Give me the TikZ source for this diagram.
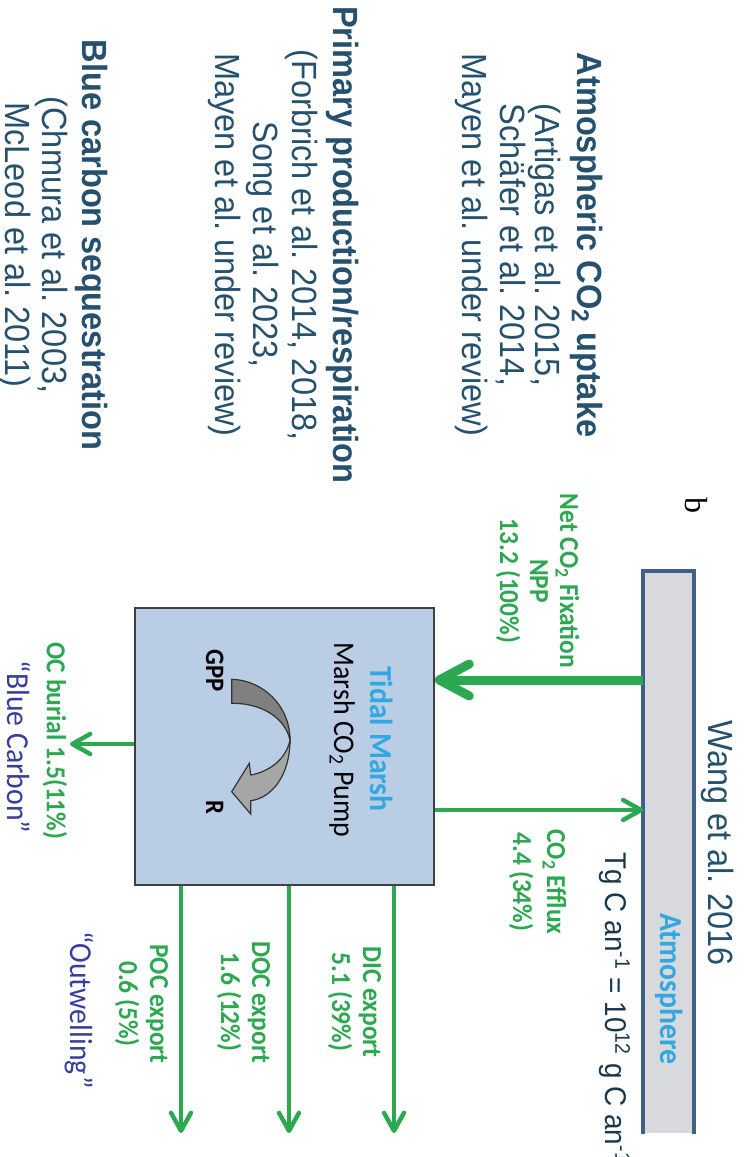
\documentclass[tikz,border=0pt]{standalone}
\usepackage{fontspec}
\setmainfont{Liberation Sans}
\newfontfamily\arialfont[FakeStretch=0.93]{Liberation Sans}
\newfontfamily\califont[FakeStretch=0.93]{Carlito}
\newfontfamily\seriffont{Liberation Serif}
\usetikzlibrary{arrows.meta}
\frenchspacing
\definecolor{refblue}{RGB}{37,80,110}
\definecolor{fluxgreen}{RGB}{44,168,80}
\definecolor{skyblue}{RGB}{50,168,226}
\definecolor{quoteblue}{RGB}{55,60,160}
\definecolor{marshfill}{RGB}{185,205,228}
\definecolor{atmfill}{RGB}{216,217,220}
\definecolor{atmline}{RGB}{65,95,138}

\begin{document}
\begin{tikzpicture}
  [x=0.5pt,y=-0.5pt,
   every node/.style={inner sep=0pt},
   vtext/.style={rotate=-90,anchor=base},
   reftext/.style={vtext,text=refblue,font=\arialfont\fontsize{17.5}{19}\selectfont},
   reftitle/.style={reftext,font=\arialfont\bfseries\fontsize{17.5}{19}\selectfont},
   fluxtext/.style={vtext,text=fluxgreen,font=\califont\bfseries\fontsize{13.7}{16}\selectfont},
   quotetext/.style={vtext,text=quoteblue,font=\califont\fontsize{16}{19}\selectfont},
   boxtext/.style={vtext,font=\califont\bfseries\fontsize{13.3}{16}\selectfont},
   flux/.style={draw=fluxgreen,line width=2.2pt,-{Straight Barb[length=9pt,width=10pt,round]}},
   bigflux/.style={flux,line width=4.5pt,-{Straight Barb[length=15pt,width=16pt,round]}}]
  \useasboundingbox (0,0) rectangle (747,1157);
  \clip (0,0) rectangle (747,1157);

  % references
  \node[reftitle] (atmtitle) at (577,245) {Atmospheric CO\textsubscript{2} uptake};
  \foreach \txt/\xx [count=\i] in {{(Artigas et al. 2015,}/535,{Schäfer et al. 2014,}/500,{Mayen et al. under review)}/462}
    \node[reftext] (atmref\i) at (\xx,245) {\txt};
  \node[reftitle] (pptitle) at (333,245) {Primary production/respiration};
  \foreach \txt/\xx [count=\i] in {{(Forbrich et al. 2014, 2018,}/292,{Song et al. 2023,}/253,{Mayen et al. under review)}/215}
    \node[reftext] (ppref\i) at (\xx,245) {\txt};
  \node[reftitle] (bctitle) at (82,245) {Blue carbon sequestration};
  \foreach \txt/\xx [count=\i] in {{(Chmura et al. 2003,}/42,{McLeod et al. 2011)}/5}
    \node[reftext] (bcref\i) at (\xx,245) {\txt};

  % atmosphere bar, open at the bottom
  \node[vtext,font=\seriffont\fontsize{16}{18}\selectfont] (panel) at (685,505) {b};
  \node[fill=atmfill,minimum width=25.15pt,minimum height=281pt,anchor=north] (atm) at (668.85,571) {};
  \draw[atmline,line width=2pt] (atm.south west) -- (atm.north west) -- (atm.north east) -- (atm.south east);
  \node[vtext,text=skyblue,font=\califont\bfseries\fontsize{16}{19}\selectfont] (atmlabel) at (660,989) {Atmosphere};
  \node[reftext] (wang) at (708,843) {Wang et al. 2016};
  \node[reftext,anchor=base west,text=refblue!70!black,font=\arialfont\fontsize{15}{18}\selectfont] (units) at (605,852)
    {Tg C an\textsuperscript{-1} = 10\textsuperscript{12} g C an\textsuperscript{-1}};

  % marsh box and pump
  \node[draw=black!75,line width=0.8pt,fill=marshfill,minimum width=149.5pt,minimum height=138.5pt] (marsh) at (284.5,746.5) {};
  \node[vtext,text=skyblue,font=\califont\bfseries\fontsize{16}{19}\selectfont] (tidal) at (370,739) {Tidal Marsh};
  \node[vtext,font=\califont\fontsize{15}{18}\selectfont] (pump) at (334,740) {Marsh CO\textsubscript{2} Pump};
  \node[boxtext] (gpp) at (206,671) {GPP};
  \node[boxtext] (resp) at (206,807) {R};
  \filldraw[fill=black!50,draw=black!80,line width=0.6pt]
    (231.7,679.3) .. controls (262,680) and (290,705) .. (290,740)
    .. controls (285,718) and (262,703) .. (231.7,703.3) -- cycle;
  \filldraw[fill=black!35,draw=black!80,line width=0.6pt]
    (290,740) .. controls (290,775) and (272,798) .. (250.7,800.7)
    -- (250.7,814) -- (231.7,791.7) -- (249.3,763.3) -- (250.7,775)
    .. controls (268,772) and (286,760) .. (290,740) -- cycle;

  % fluxes
  \coordinate (burial) at (70,744);
  \coordinate (dic) at (394,1133);
  \coordinate (doc) at (289,1133);
  \coordinate (poc) at (181,1133);
  \draw[bigflux] (atm.west |- 0,680) -- (marsh.east |- 0,680);
  \draw[flux] (marsh.east |- 0,810) -- (atm.west |- 0,810);
  \draw[flux] (marsh.west |- 0,744) -- (burial);
  \foreach \xx/\name in {394/dic,289/doc,181/poc}
    \draw[flux] (marsh.south -| \xx,0) -- (\name);

  % flux labels
  \foreach \txt/\xx [count=\i] in {{Net CO\textsubscript{2} Fixation}/560,NPP/530,{13.2 (100\%)}/500}
    \node[fluxtext] (npp\i) at (\xx,581) {\txt};
  \foreach \txt/\xx [count=\i] in {{CO\textsubscript{2} Efflux}/547,{4.4 (34\%)}/513}
    \node[fluxtext] (efflux\i) at (\xx,882) {\txt};
  \foreach \txt/\xx [count=\i] in {{DIC export}/363,{5.1 (39\%)}/332}
    \node[fluxtext] (diclabel\i) at (\xx,1002) {\txt};
  \foreach \txt/\xx [count=\i] in {{DOC export}/252,{1.6 (12\%)}/221}
    \node[fluxtext] (doclabel\i) at (\xx,1002) {\txt};
  \foreach \txt/\xx [count=\i] in {{POC export}/150,{0.6 (5\%)}/119}
    \node[fluxtext] (poclabel\i) at (\xx,1004) {\txt};
  \node[fluxtext] (buriallabel) at (47,741) {OC burial 1.5(11\%)};
  \node[quotetext] (bluecarbon) at (7,747) {“Blue Carbon”};
  \node[quotetext] (outwelling) at (70,1010) {“Outwelling”};
\end{tikzpicture}
\end{document}
